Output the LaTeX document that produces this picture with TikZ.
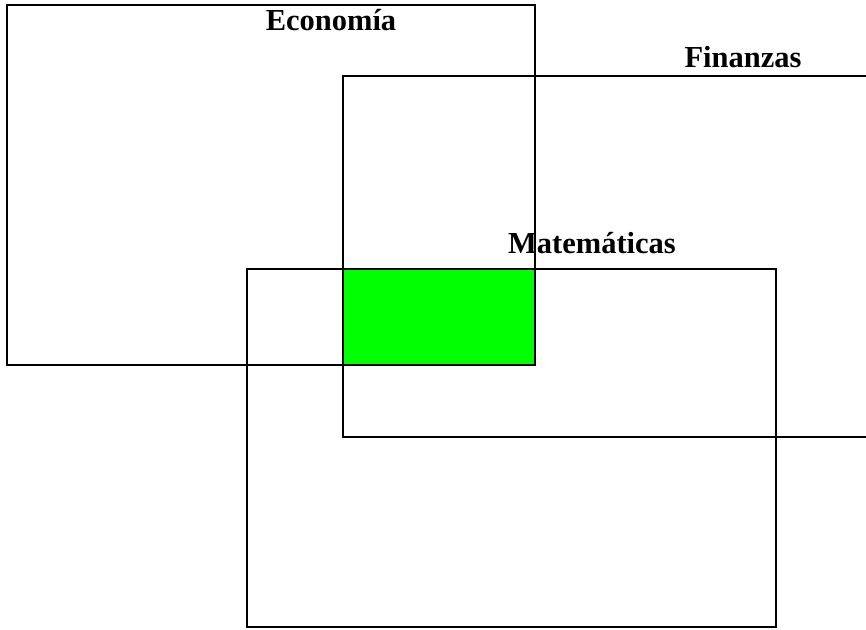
\documentclass[tikz,border=0pt]{standalone}
\usepackage{fontspec}
\setmainfont{Liberation Serif}
\usetikzlibrary{calc}
\tikzset{
	conjunto/.style={line width=1.5pt, draw=black},
	etiqueta/.style={font=\fontsize{30.5}{33}\selectfont\bfseries, anchor=base, inner sep=0pt}
}

\begin{document}
\begin{tikzpicture}[x=1pt, y=-1pt]
			%%%%% START %%%%%
			
			\useasboundingbox (0, 0) rectangle (866, 629);
			\clip (0, 0) rectangle (866, 629);
			
			\fill[green] (343, 269) rectangle (535, 365);
			
			\draw[conjunto] (7, 5) rectangle (535, 365);
			\draw[conjunto] (343, 76) rectangle (870, 437);
			\draw[conjunto] (247, 269) rectangle (776, 627);
			\draw[conjunto] (343, 269) rectangle (535, 365);
			
			\node[etiqueta] (economia) at (331, 30) {Economía};
			\node[etiqueta] (finanzas) at (743, 67) {Finanzas};
			\node[etiqueta] (matematicas) at (592, 253) {Matemáticas};
			
			%%%%% END %%%%%
		\end{tikzpicture}
\end{document}
